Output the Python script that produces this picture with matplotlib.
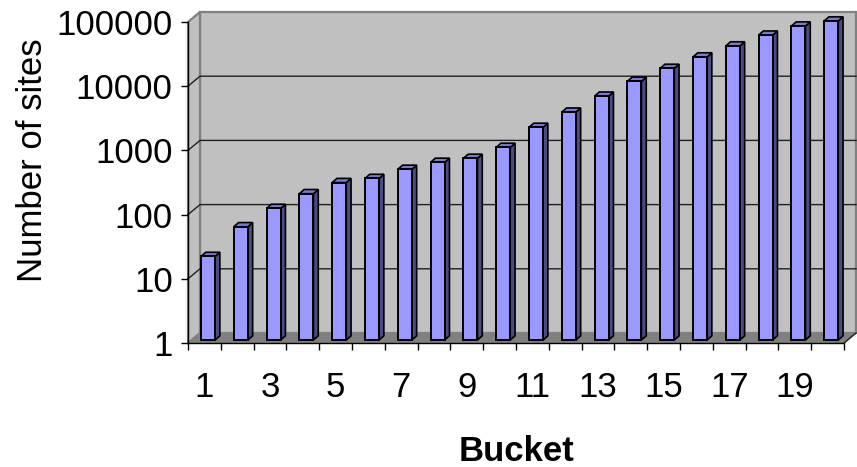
import matplotlib
matplotlib.use("Agg")
import matplotlib.pyplot as plt
from matplotlib.patches import Polygon
from matplotlib.transforms import ScaledTranslation
from matplotlib.ticker import FixedLocator, FixedFormatter, NullLocator
import numpy as np

# Data
buckets = list(range(1, 21))
sites = [20, 58, 112, 190, 283, 328, 455, 585, 675, 1000,
         2050, 3540, 6280, 10700, 17000, 25600, 38000, 56000, 77600, 93000]
y_ticks = [1, 10, 100, 1000, 10000, 100000]
y_tick_labels = ["1", "10", "100", "1000", "10000", "100000"]
x_tick_labels = [1, 3, 5, 7, 9, 11, 13, 15, 17, 19]

plt.rcParams["font.family"] = ["Liberation Sans", "DejaVu Sans"]

DPI = 100
fig = plt.figure(figsize=(8.57, 4.67), dpi=DPI)
ax = fig.add_axes([188 / 857, 124 / 467, 656 / 857, 321 / 467])
ax.set_yscale("log")
ax.set_xlim(0.5, 20.5)
ax.set_ylim(1, 1e5)
ax.patch.set_visible(False)

# 3-D depth offsets in pixels (right, up)
WALL_DX, WALL_DY = 12, 10
BAR_FX, BAR_FY = 3.6, 3.0      # front face of the bars
BAR_DX, BAR_DY = 4.8, 4.2      # bar depth
BAR_W = 0.43


def shift(x, y, dx, dy):
    d = ax.transData.transform((x, y)) + np.array([dx, dy])
    return ax.transData.inverted().transform(d)


x0, x1 = 0.5, 20.5
y0, y1 = 1, 1e5

# back wall
back = [shift(x0, y0, WALL_DX, WALL_DY), shift(x1, y0, WALL_DX, WALL_DY),
        shift(x1, y1, WALL_DX, WALL_DY), shift(x0, y1, WALL_DX, WALL_DY)]
ax.add_patch(Polygon(back, closed=True, facecolor="#c0c0c0", edgecolor="#808080",
                     linewidth=1.6, clip_on=False, zorder=0))
# side wall
side = [(x0, y0), (x0, y1), shift(x0, y1, WALL_DX, WALL_DY), shift(x0, y0, WALL_DX, WALL_DY)]
ax.add_patch(Polygon(side, closed=True, facecolor="#c0c0c0", edgecolor="#808080",
                     linewidth=1.6, clip_on=False, zorder=0.5))
# floor
floor = [(x0, y0), (x1, y0), shift(x1, y0, WALL_DX, WALL_DY), shift(x0, y0, WALL_DX, WALL_DY)]
ax.add_patch(Polygon(floor, closed=True, facecolor="#808080", edgecolor="#808080",
                     linewidth=1.0, clip_on=False, zorder=0.6))

# gridlines on the side and back walls
for v in y_ticks[1:-1]:
    p1 = shift(x0, v, WALL_DX, WALL_DY)
    p2 = shift(x1, v, WALL_DX, WALL_DY)
    ax.plot([x0, p1[0], p2[0]], [v, p1[1], p2[1]], color="#202020", linewidth=1.0,
            clip_on=False, zorder=1)

# right edge of the floor
pr = shift(x1, y0, WALL_DX, WALL_DY)
ax.plot([x1, pr[0]], [y0, pr[1]], color="#202020", linewidth=1.0, clip_on=False, zorder=1)

# bars: front faces
bar_trans = ax.transData + ScaledTranslation(BAR_FX / DPI, BAR_FY / DPI, fig.dpi_scale_trans)
heights = [v - 1 for v in sites]
ax.bar(buckets, heights, width=BAR_W, bottom=1, color="#9999ff", edgecolor="black",
       linewidth=1.4, transform=bar_trans, clip_on=False, zorder=3)

# bars: side and top faces
for b, v in zip(buckets, sites):
    xl, xr = b - BAR_W / 2, b + BAR_W / 2
    fr_b = shift(xr, 1, BAR_FX, BAR_FY)
    fr_t = shift(xr, v, BAR_FX, BAR_FY)
    bk_t = shift(xr, v, BAR_FX + BAR_DX, BAR_FY + BAR_DY)
    bk_b = shift(xr, 1, BAR_FX + BAR_DX, BAR_FY + BAR_DY)
    ax.add_patch(Polygon([fr_b, fr_t, bk_t, bk_b], closed=True, facecolor="#4c4c80",
                         edgecolor="black", linewidth=1.2, clip_on=False, zorder=2.9))
    fl_t = shift(xl, v, BAR_FX, BAR_FY)
    bl_t = shift(xl, v, BAR_FX + BAR_DX, BAR_FY + BAR_DY)
    ax.add_patch(Polygon([fl_t, fr_t, bk_t, bl_t], closed=True, facecolor="#7a7acc",
                         edgecolor="black", linewidth=1.2, clip_on=False, zorder=2.9))

# axes
for s in ("top", "right"):
    ax.spines[s].set_visible(False)
for s in ("left", "bottom"):
    ax.spines[s].set_color("black")
    ax.spines[s].set_linewidth(1.0)
    ax.spines[s].set_zorder(4)

ax.yaxis.set_major_locator(FixedLocator(y_ticks))
ax.yaxis.set_major_formatter(FixedFormatter(y_tick_labels))
ax.yaxis.set_minor_locator(NullLocator())
ax.tick_params(axis="y", which="major", direction="out", length=5, width=1,
               labelsize=25, pad=6)

ax.xaxis.set_major_locator(FixedLocator(np.arange(0.5, 21, 1)))
ax.xaxis.set_major_formatter(FixedFormatter([""] * 21))
ax.xaxis.set_minor_locator(FixedLocator(x_tick_labels))
ax.xaxis.set_minor_formatter(FixedFormatter([str(v) for v in x_tick_labels]))
ax.tick_params(axis="x", which="major", direction="out", length=5, width=1)
ax.tick_params(axis="x", which="minor", length=0, labelsize=25, pad=20)

fig.text(42 / 857, 1 - 160.5 / 467, "Number of sites", fontsize=25, rotation=90,
         rotation_mode="anchor", ha="center", va="baseline")
fig.text(516.5 / 857, 1 - 461 / 467, "Bucket", fontsize=25, fontweight="bold",
         ha="center", va="baseline")

fig.savefig("out.png", dpi=DPI)
